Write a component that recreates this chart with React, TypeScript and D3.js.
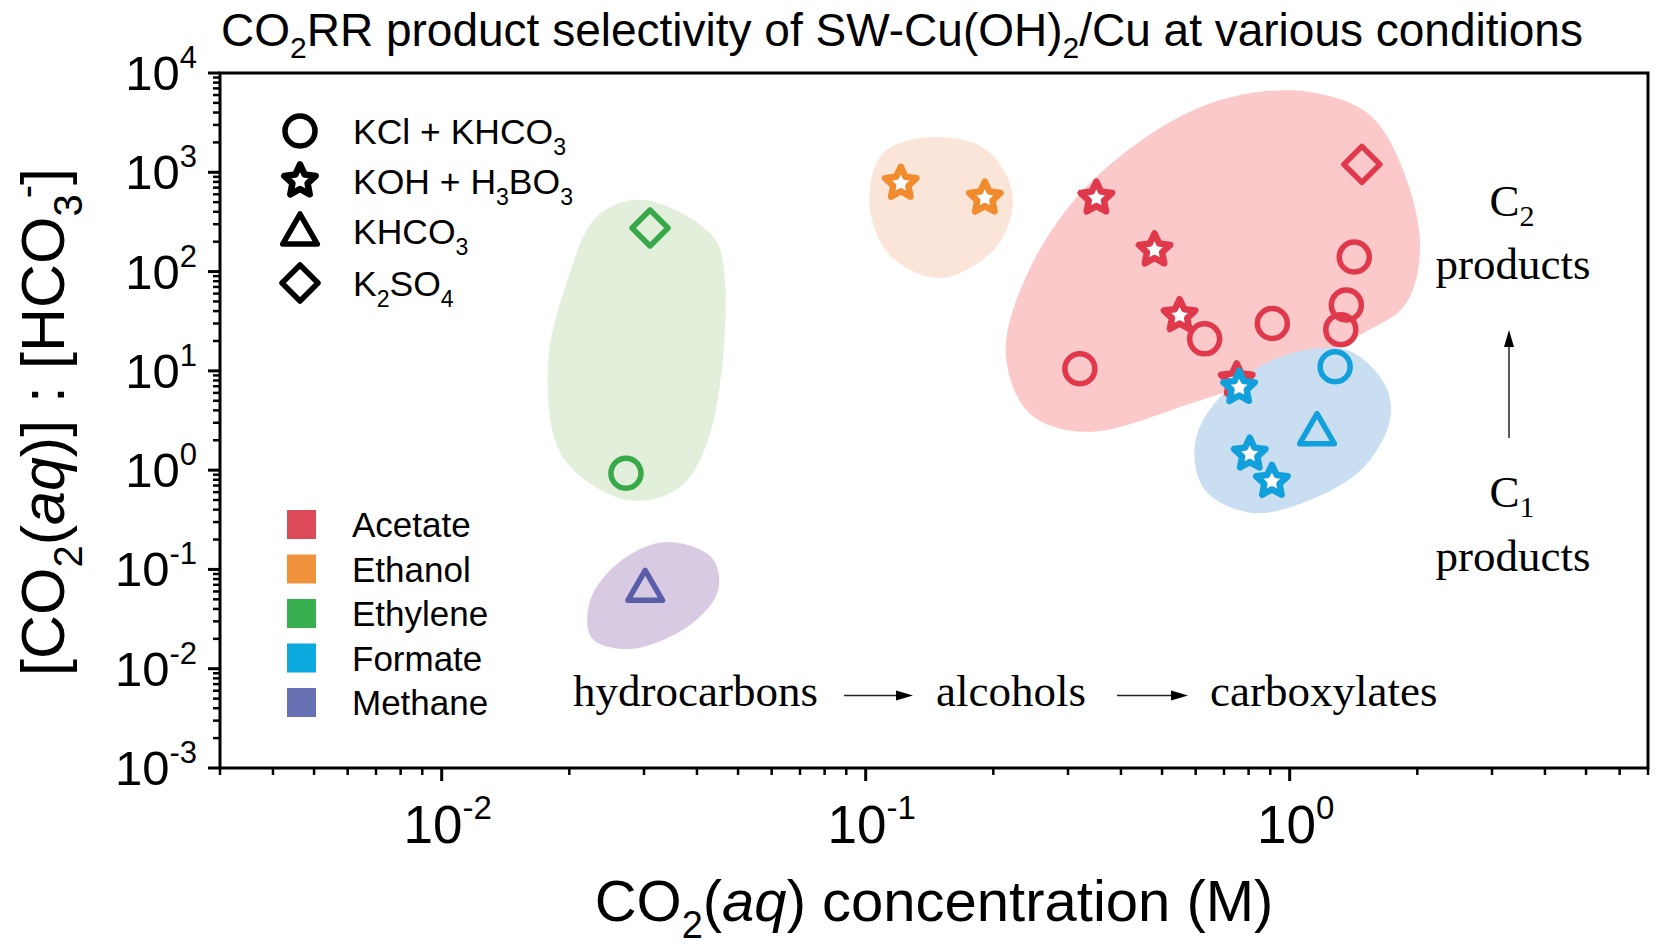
import React from 'react';
import * as d3 from 'd3';

const W = 1664;
const H = 949;
const PLOT = { left: 220, right: 1648, top: 73, bottom: 768 };

// ---------- data ----------
const xDomain: [number, number] = [0.003, 7];
const yDomain: [number, number] = [1e-3, 1e4];
const xMajor = [0.01, 0.1, 1];
const yMajorExp = [-3, -2, -1, 0, 1, 2, 3, 4];
const xMajorExp = [-2, -1, 0];

const products = ['Acetate', 'Ethanol', 'Ethylene', 'Formate', 'Methane'];
const productColors = ['#e0394b', '#f08b2e', '#37a948', '#12a0dc', '#5a5ea8'];
const legendSquareColors = ['#dc4a5a', '#f0923c', '#38b04f', '#0caadf', '#6670b2'];
const blobColors = ['#fcc9cb', '#fbe5d8', '#e2efdb', '#c9dff1', '#d9cae4'];

// [x (M), ratio, electrolyte]
const acetatePoints: [number, number, string][] = [
  [1.48, 1200, 'diamond'],
  [0.35, 550, 'star'],
  [0.48, 165, 'star'],
  [0.55, 36, 'star'],
  [0.75, 8.1, 'star'],
  [0.32, 10.5, 'circle'],
  [0.63, 21, 'circle'],
  [0.91, 30, 'circle'],
  [1.32, 26, 'circle'],
  [1.36, 46, 'circle'],
  [1.42, 140, 'circle'],
];
const ethanolPoints: [number, number, string][] = [
  [0.121, 775, 'star'],
  [0.191, 550, 'star'],
];
const ethylenePoints: [number, number, string][] = [
  [0.031, 275, 'diamond'],
  [0.0272, 0.93, 'circle'],
];
const formatePoints: [number, number, string][] = [
  [1.28, 11, 'circle'],
  [1.16, 2.5, 'triangle'],
  [0.76, 6.8, 'star'],
  [0.805, 1.45, 'star'],
  [0.908, 0.77, 'star'],
];
const methanePoints: [number, number, string][] = [[0.0302, 0.066, 'triangle']];

// region outlines (data coordinates)
const acetateBlob: [number, number][] = [
  [0.533, 3365], [0.764, 6000], [1.117, 6440], [1.546, 3776], [1.87, 940], [2.03, 165],
  [1.87, 46], [1.465, 23], [1.04, 10.9], [0.618, 5.1], [0.331, 2.43], [0.243, 3.77],
  [0.214, 15.1], [0.243, 104], [0.331, 711],
];
const ethanolBlob: [number, number][] = [
  [0.110, 1563], [0.144, 2264], [0.193, 1679], [0.222, 590], [0.205, 185],
  [0.151, 86], [0.114, 147], [0.102, 491],
];
const ethyleneBlob: [number, number][] = [
  [0.0298, 526], [0.0437, 223], [0.0466, 76.7], [0.043, 2.37], [0.0365, 0.678],
  [0.0274, 0.501], [0.0193, 1.36], [0.0178, 10.9], [0.0197, 76.7], [0.0232, 355],
];
const formateBlob: [number, number][] = [
  [0.685, 5.46], [0.948, 13.8], [1.365, 16.2], [1.678, 7.21], [1.724, 3.2],
  [1.489, 1.05], [1.117, 0.501], [0.815, 0.371], [0.631, 0.632], [0.598, 1.88],
];
const methaneBlob: [number, number][] = [
  [0.034, 0.189], [0.0434, 0.1306], [0.0449, 0.0622], [0.0385, 0.0276],
  [0.0278, 0.0158], [0.0226, 0.0204], [0.0224, 0.0493], [0.0266, 0.1247],
];

const FONT = '"Liberation Sans", Arial, sans-serif';
const SERIF = '"Liberation Serif", "Times New Roman", serif';

const x = d3.scaleLog().domain(xDomain).range([PLOT.left, PLOT.right]);
const y = d3.scaleLog().domain(yDomain).range([PLOT.bottom, PLOT.top]);

function starPath(R: number, r: number) {
  const pts: [number, number][] = [];
  for (let i = 0; i < 10; i++) {
    const a = -Math.PI / 2 + (i * Math.PI) / 5;
    const rad = i % 2 === 0 ? R : r;
    pts.push([rad * Math.cos(a), rad * Math.sin(a)]);
  }
  return 'M' + pts.map((p) => p.join(',')).join('L') + 'Z';
}
function trianglePath(R: number) {
  const pts: [number, number][] = [0, 1, 2].map((i) => {
    const a = -Math.PI / 2 + (i * 2 * Math.PI) / 3;
    return [R * Math.cos(a), R * Math.sin(a)];
  });
  return 'M' + pts.map((p) => p.join(',')).join('L') + 'Z';
}
function diamondPath(h: number) {
  return `M0,${-h}L${h},0L0,${h}L${-h},0Z`;
}

function Marker({ shape, cx, cy, color }: { shape: string; cx: number; cy: number; color: string }) {
  const common = {
    fill: 'none',
    stroke: color,
    strokeWidth: 5.5,
    strokeLinejoin: 'round' as const,
  };
  if (shape === 'circle') return <circle cx={cx} cy={cy} r={15} {...common} />;
  if (shape === 'star')
    return (
      <path
        d={starPath(16.5, 8)}
        transform={`translate(${cx},${cy})`}
        {...common}
        strokeWidth={6.5}
        fill="#fff"
      />
    );
  if (shape === 'triangle')
    return <path d={trianglePath(20)} transform={`translate(${cx},${cy + 3})`} {...common} />;
  return <path d={diamondPath(18)} transform={`translate(${cx},${cy})`} {...common} />;
}

const blobLine = d3
  .line<[number, number]>()
  .x((d) => x(d[0]))
  .y((d) => y(d[1]))
  .curve(d3.curveCatmullRomClosed.alpha(0.5));

export default function App() {
  const blobs = [acetateBlob, ethanolBlob, ethyleneBlob, formateBlob, methaneBlob];
  const series = [acetatePoints, ethanolPoints, ethylenePoints, formatePoints, methanePoints];

  const yMinor: number[] = [];
  for (let e = -3; e < 4; e++) for (let k = 2; k <= 9; k++) yMinor.push(k * Math.pow(10, e));
  const xMinor: number[] = [];
  for (let e = -3; e <= 0; e++)
    for (let k = 2; k <= 9; k++) {
      const v = k * Math.pow(10, e);
      if (v >= xDomain[0] && v <= xDomain[1]) xMinor.push(v);
    }

  const legendTop = [
    { shape: 'circle', parts: [['KCl + KHCO', ''], ['3', 'sub']] },
    { shape: 'star', parts: [['KOH + H', ''], ['3', 'sub'], ['BO', ''], ['3', 'sub']] },
    { shape: 'triangle', parts: [['KHCO', ''], ['3', 'sub']] },
    { shape: 'diamond', parts: [['K', ''], ['2', 'sub'], ['SO', ''], ['4', 'sub']] },
  ];
  const legendTopY = [131, 181, 231, 283];

  const renderParts = (parts: string[][], size: number) => {
    let shift = 0;
    return parts.map(([t, kind], i) => {
      let dy = 0;
      if (kind === 'sub' && shift === 0) {
        dy = size * 0.3;
        shift = dy;
      } else if (kind !== 'sub' && shift !== 0) {
        dy = -shift;
        shift = 0;
      }
      return (
        <tspan key={i} dy={dy} fontSize={kind === 'sub' ? size * 0.65 : size}>
          {t}
        </tspan>
      );
    });
  };

  return (
    <svg
      width={W}
      height={H}
      viewBox={`0 0 ${W} ${H}`}
      style={{ position: 'absolute', left: 0, top: 0, background: '#fff' }}
      fontFamily={FONT}
    >
      <rect x={0} y={0} width={W} height={H} fill="#fff" />
      {/* blobs */}
      {blobs.map((b, i) => (
        <path key={'b' + i} d={blobLine(b) || ''} fill={blobColors[i]} />
      ))}

      {/* points */}
      {series.map((pts, si) =>
        pts.map((p, j) => (
          <Marker key={si + '-' + j} shape={p[2]} cx={x(p[0])} cy={y(p[1])} color={productColors[si]} />
        ))
      )}

      {/* frame */}
      <rect
        x={PLOT.left}
        y={PLOT.top}
        width={PLOT.right - PLOT.left}
        height={PLOT.bottom - PLOT.top}
        fill="none"
        stroke="#000"
        strokeWidth={3}
      />

      {/* y ticks */}
      {yMajorExp.map((e) => (
        <line key={'ym' + e} x1={PLOT.left - 12} x2={PLOT.left} y1={y(Math.pow(10, e))} y2={y(Math.pow(10, e))} stroke="#000" strokeWidth={3} />
      ))}
      {yMinor.map((v, i) => (
        <line key={'yn' + i} x1={PLOT.left - 7} x2={PLOT.left} y1={y(v)} y2={y(v)} stroke="#000" strokeWidth={2.5} />
      ))}
      {yMajorExp.map((e) => (
        <text key={'yl' + e} x={197} y={y(Math.pow(10, e)) + 17} textAnchor="end" fontSize={49}>
          <tspan>10</tspan>
          <tspan dy={-22} fontSize={31}>{String(e)}</tspan>
        </text>
      ))}

      {/* x ticks */}
      {xMajor.map((v) => (
        <line key={'xm' + v} x1={x(v)} x2={x(v)} y1={PLOT.bottom} y2={PLOT.bottom + 13} stroke="#000" strokeWidth={3} />
      ))}
      {xMinor.map((v, i) => (
        <line key={'xn' + i} x1={x(v)} x2={x(v)} y1={PLOT.bottom} y2={PLOT.bottom + 7} stroke="#000" strokeWidth={2.5} />
      ))}
      {xMajorExp.map((e) => (
        <text key={'xl' + e} x={x(Math.pow(10, e)) + 6} y={843} textAnchor="middle" fontSize={53}>
          <tspan>10</tspan>
          <tspan dy={-24} fontSize={33}>{String(e)}</tspan>
        </text>
      ))}

      {/* titles */}
      <text x={902} y={46} textAnchor="middle" fontSize={46}>
        <tspan>CO</tspan>
        <tspan dy={12} fontSize={30}>2</tspan>
        <tspan dy={-12}>RR product selectivity of SW-Cu(OH)</tspan>
        <tspan dy={12} fontSize={30}>2</tspan>
        <tspan dy={-12}>/Cu at various conditions</tspan>
      </text>

      <text x={934} y={921} textAnchor="middle" fontSize={58}>
        <tspan>CO</tspan>
        <tspan dy={17} fontSize={38}>2</tspan>
        <tspan dy={-17}>(</tspan>
        <tspan fontStyle="italic">aq</tspan>
        <tspan>) concentration (M)</tspan>
      </text>

      <text transform="translate(64,422) rotate(-90)" textAnchor="middle" fontSize={61}>
        <tspan>[CO</tspan>
        <tspan dy={18} fontSize={40}>2</tspan>
        <tspan dy={-18}>(</tspan>
        <tspan fontStyle="italic">aq</tspan>
        <tspan>)] : [HCO</tspan>
        <tspan dy={18} fontSize={40}>3</tspan>
        <tspan dy={-42} dx={-4} fontSize={40}>-</tspan>
        <tspan dy={24}>]</tspan>
      </text>

      {/* electrolyte legend */}
      {legendTop.map((l, i) => (
        <g key={'lt' + i}>
          <Marker shape={l.shape} cx={300} cy={legendTopY[i]} color="#000" />
          <text x={353} y={legendTopY[i] + 13} fontSize={35.5}>
            {renderParts(l.parts, 35.5)}
          </text>
        </g>
      ))}

      {/* product legend */}
      {products.map((p, i) => (
        <g key={'lp' + i}>
          <rect x={287} y={510 + i * 44.5} width={29} height={29} fill={legendSquareColors[i]} />
          <text x={352} y={510 + i * 44.5 + 14.5 + 12.5} fontSize={35}>
            {p}
          </text>
        </g>
      ))}

      {/* annotations */}
      <g fontFamily={SERIF} fontSize={45}>
        <text x={573} y={706}>hydrocarbons</text>
        <text x={936} y={706}>alcohols</text>
        <text x={1210} y={706}>carboxylates</text>
        <text x={1512} y={216} textAnchor="middle">
          <tspan>C</tspan>
          <tspan dy={10} fontSize={30}>2</tspan>
        </text>
        <text x={1513} y={279} textAnchor="middle">products</text>
        <text x={1512} y={507} textAnchor="middle">
          <tspan>C</tspan>
          <tspan dy={10} fontSize={30}>1</tspan>
        </text>
        <text x={1513} y={571} textAnchor="middle">products</text>
      </g>
      {[
        [844, 913],
        [1117, 1188],
      ].map(([a, b], i) => (
        <g key={'ar' + i}>
          <line x1={a} x2={b - 14} y1={695.5} y2={695.5} stroke="#222" strokeWidth={1.6} />
          <path d={`M${b},695.5L${b - 17},690.5L${b - 17},700.5Z`} fill="#000" />
        </g>
      ))}
      <line x1={1509} x2={1509} y1={438} y2={345} stroke="#333" strokeWidth={1.6} />
      <path d="M1509,330L1504,347L1514,347Z" fill="#000" />
    </svg>
  );
}
